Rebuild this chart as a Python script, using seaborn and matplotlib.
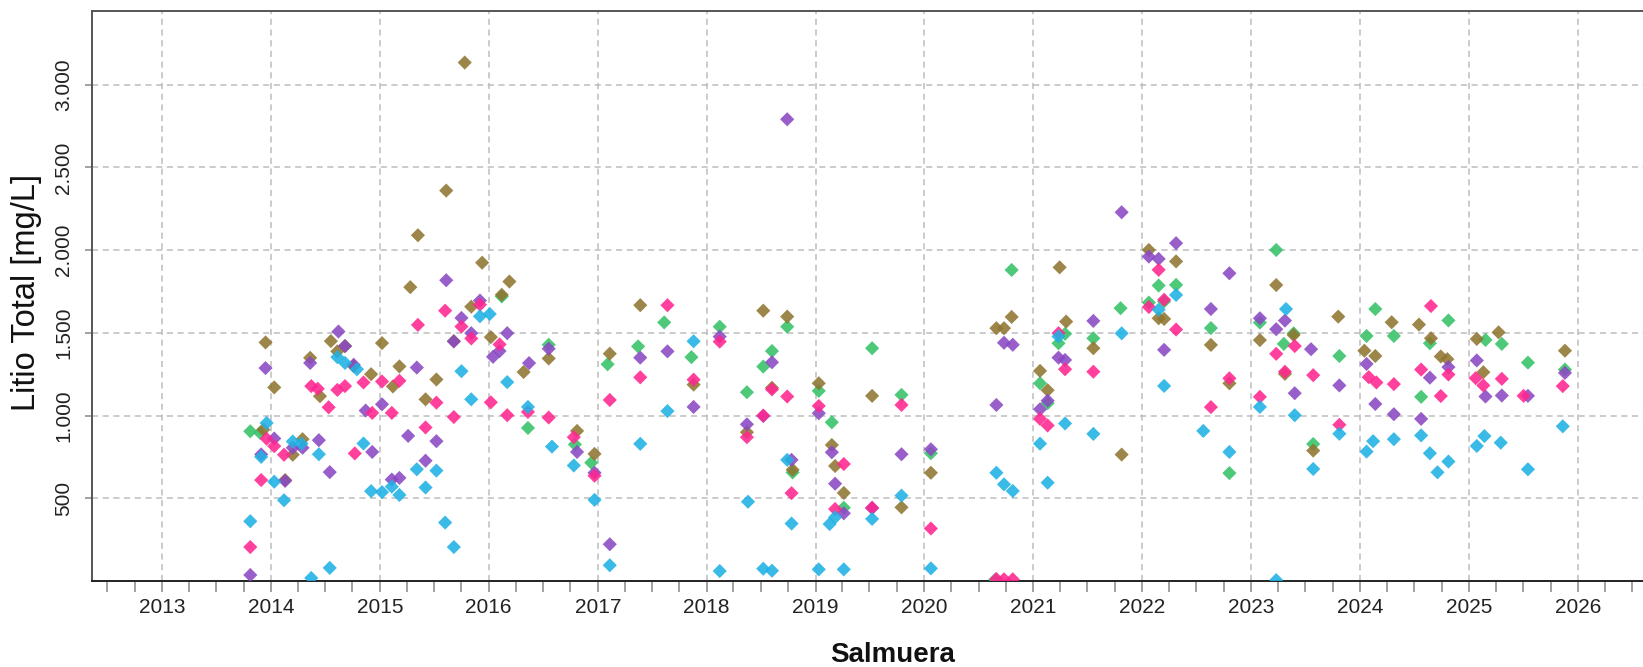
import numpy as np
import pandas as pd
import matplotlib
matplotlib.use("Agg")
import matplotlib.pyplot as plt
import matplotlib.dates as mdates
from matplotlib.ticker import FuncFormatter, FixedLocator
import seaborn as sns

# Sampling dates (decimal years) and total lithium [mg/L] for each series
green_t = [2013.81, 2013.90, 2016.12, 2016.36, 2016.55, 2016.79, 2016.94, 2017.09, 2017.37, 2017.61,
           2017.86, 2018.12, 2018.37, 2018.52, 2018.60, 2018.74, 2018.79, 2019.03, 2019.15, 2019.26,
           2019.52, 2019.79, 2020.06, 2020.65, 2020.80, 2021.06, 2021.13, 2021.23, 2021.29, 2021.55,
           2021.80, 2022.06, 2022.15, 2022.20, 2022.31, 2022.63, 2022.80, 2023.08, 2023.23, 2023.30,
           2023.39, 2023.57, 2023.81, 2024.06, 2024.14, 2024.31, 2024.56, 2024.64, 2024.81, 2025.15,
           2025.30, 2025.54, 2025.88]
green_v = [905, 895, 1720, 925, 1428, 825, 715, 1310, 1418, 1563,
           1353, 1537, 1141, 1296, 1390, 1537, 656, 1149, 959, 443,
           1407, 1125, 772, 8, 1880, 1195, 1075, 1437, 1494, 1467,
           1649, 1683, 1786, 1690, 1790, 1529, 652, 1562, 2001, 1433,
           1497, 828, 1360, 1481, 1644, 1481, 1113, 1437, 1575, 1457,
           1433, 1320, 1278]

brown_t = [2013.93, 2013.95, 2014.03, 2014.13, 2014.20, 2014.29, 2014.36, 2014.45, 2014.55, 2014.61,
           2014.68, 2014.76, 2014.92, 2015.02, 2015.12, 2015.18, 2015.28, 2015.35, 2015.42, 2015.52,
           2015.61, 2015.68, 2015.78, 2015.84, 2015.94, 2016.02, 2016.12, 2016.19, 2016.32, 2016.55,
           2016.81, 2016.97, 2017.11, 2017.39, 2017.88, 2018.37, 2018.52, 2018.60, 2018.74, 2018.79,
           2019.03, 2019.15, 2019.18, 2019.26, 2019.52, 2019.79, 2020.06, 2020.66, 2020.73, 2020.80,
           2021.06, 2021.13, 2021.24, 2021.30, 2021.55, 2021.81, 2022.06, 2022.15, 2022.20, 2022.31,
           2022.63, 2022.80, 2023.08, 2023.23, 2023.31, 2023.39, 2023.57, 2023.80, 2024.04, 2024.14,
           2024.29, 2024.54, 2024.65, 2024.74, 2024.80, 2025.07, 2025.13, 2025.27, 2025.88]
brown_v = [915, 1442, 1170, 610, 763, 857, 1349, 1117, 1450, 1388,
           1420, 1298, 1250, 1438, 1176, 1297, 1776, 2090, 1098, 1218,
           2360, 1450, 3134, 1658, 1924, 1474, 1730, 1810, 1263, 1345,
           907, 768, 1374, 1667, 1187, 899, 1634, 1168, 1598, 672,
           1195, 822, 695, 532, 1119, 445, 654, 1528, 1528, 1596,
           1270, 1153, 1896, 1568, 1407, 764, 2001, 1588, 1584, 1932,
           1427, 1195, 1456, 1789, 1252, 1487, 788, 1598, 1392, 1360,
           1564, 1550, 1467, 1357, 1341, 1463, 1262, 1503, 1392]

purple_t = [2013.81, 2013.91, 2013.95, 2014.03, 2014.13, 2014.20, 2014.29, 2014.36, 2014.44, 2014.54,
            2014.62, 2014.68, 2014.76, 2014.87, 2014.93, 2015.02, 2015.11, 2015.18, 2015.26, 2015.34,
            2015.42, 2015.52, 2015.61, 2015.68, 2015.75, 2015.84, 2015.92, 2016.04, 2016.10, 2016.17,
            2016.37, 2016.55, 2016.81, 2016.97, 2017.11, 2017.39, 2017.64, 2017.88, 2018.12, 2018.37,
            2018.52, 2018.60, 2018.74, 2018.78, 2019.03, 2019.15, 2019.18, 2019.26, 2019.52, 2019.79,
            2020.06, 2020.66, 2020.73, 2020.81, 2021.06, 2021.13, 2021.23, 2021.29, 2021.55, 2021.81,
            2022.06, 2022.15, 2022.20, 2022.31, 2022.63, 2022.80, 2023.08, 2023.23, 2023.31, 2023.40,
            2023.55, 2023.81, 2024.06, 2024.14, 2024.31, 2024.56, 2024.64, 2024.81, 2025.07, 2025.15,
            2025.30, 2025.54, 2025.88]
purple_v = [36, 765, 1287, 861, 605, 805, 805, 1318, 851, 658,
            1508, 1420, 1307, 1030, 780, 1068, 613, 623, 877, 1290,
            727, 845, 1818, 1448, 1590, 1498, 1695, 1355, 1390, 1498,
            1317, 1404, 780, 654, 222, 1350, 1388, 1052, 1477, 947,
            997, 1322, 2791, 732, 1014, 778, 588, 409, 440, 766,
            796, 1064, 1440, 1428, 1038, 1090, 1350, 1336, 1572, 2229,
            1961, 1947, 1397, 2042, 1644, 1860, 1588, 1522, 1574, 1135,
            1401, 1182, 1312, 1070, 1008, 980, 1229, 1293, 1333, 1115,
            1121, 1119, 1258]

pink_t = [2013.81, 2013.91, 2013.96, 2014.03, 2014.12, 2014.37, 2014.43, 2014.53, 2014.61, 2014.68,
          2014.77, 2014.85, 2014.93, 2015.02, 2015.11, 2015.18, 2015.35, 2015.42, 2015.52, 2015.60,
          2015.68, 2015.75, 2015.84, 2015.92, 2016.02, 2016.10, 2016.17, 2016.36, 2016.55, 2016.78,
          2016.97, 2017.11, 2017.39, 2017.64, 2017.88, 2018.12, 2018.37, 2018.52, 2018.60, 2018.74,
          2018.78, 2019.03, 2019.18, 2019.26, 2019.52, 2019.79, 2020.06, 2020.66, 2020.73, 2020.81,
          2021.06, 2021.13, 2021.23, 2021.29, 2021.55, 2022.06, 2022.15, 2022.20, 2022.31, 2022.63,
          2022.80, 2023.08, 2023.23, 2023.31, 2023.40, 2023.57, 2023.81, 2024.08, 2024.15, 2024.31,
          2024.56, 2024.65, 2024.74, 2024.81, 2025.06, 2025.13, 2025.30, 2025.50, 2025.86]
pink_v = [205, 610, 860, 815, 763, 1178, 1162, 1050, 1155, 1178,
          771, 1200, 1016, 1206, 1016, 1210, 1548, 928, 1078, 1634,
          991, 1538, 1466, 1670, 1080, 1430, 1002, 1022, 988, 869,
          636, 1094, 1231, 1667, 1217, 1447, 869, 1000, 1158, 1115,
          531, 1058, 435, 707, 443, 1064, 317, 12, 10, 10,
          980, 940, 1498, 1280, 1265, 1656, 1881, 1700, 1520, 1051,
          1225, 1113, 1373, 1265, 1420, 1244, 944, 1232, 1200, 1190,
          1278, 1662, 1118, 1248, 1226, 1182, 1222, 1119, 1178]

cyan_t = [2013.81, 2013.91, 2013.96, 2014.03, 2014.12, 2014.20, 2014.28, 2014.37, 2014.44, 2014.54,
          2014.61, 2014.68, 2014.79, 2014.85, 2014.92, 2015.02, 2015.11, 2015.18, 2015.34, 2015.42,
          2015.52, 2015.60, 2015.68, 2015.75, 2015.84, 2015.92, 2016.01, 2016.17, 2016.36, 2016.58,
          2016.78, 2016.97, 2017.11, 2017.39, 2017.64, 2017.88, 2018.12, 2018.38, 2018.52, 2018.60,
          2018.74, 2018.78, 2019.03, 2019.13, 2019.18, 2019.26, 2019.52, 2019.79, 2020.06, 2020.66,
          2020.73, 2020.81, 2021.06, 2021.13, 2021.23, 2021.29, 2021.55, 2021.81, 2022.15, 2022.20,
          2022.31, 2022.56, 2022.80, 2023.08, 2023.23, 2023.32, 2023.40, 2023.57, 2023.81, 2024.06,
          2024.12, 2024.31, 2024.56, 2024.64, 2024.71, 2024.81, 2025.07, 2025.14, 2025.29, 2025.54,
          2025.86]
cyan_v = [361, 750, 955, 600, 488, 843, 830, 18, 766, 79,
          1353, 1318, 1280, 831, 543, 537, 570, 520, 675, 565,
          667, 353, 205, 1268, 1098, 1600, 1614, 1202, 1052, 812,
          698, 490, 95, 829, 1027, 1449, 60, 479, 74, 62,
          732, 347, 70, 344, 385, 70, 375, 516, 76, 654,
          584, 544, 830, 594, 1478, 952, 889, 1497, 1640, 1179,
          1729, 907, 780, 1052, 5, 1644, 1002, 677, 890, 782,
          845, 857, 880, 772, 657, 722, 816, 876, 836, 675,
          935]

series_names = ["Pozo 1", "Pozo 2", "Pozo 3", "Pozo 4", "Pozo 5"]
series_colors = ["#35c267", "#8f7530", "#8a48c2", "#ff2690", "#1fb1e4"]


def to_date(y):
    year = int(np.floor(y))
    start = pd.Timestamp(year, 1, 1)
    end = pd.Timestamp(year + 1, 1, 1)
    return start + (end - start) * (y - year)


frames = []
for name, t, v in zip(series_names,
                      [green_t, brown_t, purple_t, pink_t, cyan_t],
                      [green_v, brown_v, purple_v, pink_v, cyan_v]):
    frames.append(pd.DataFrame({"fecha": [to_date(x) for x in t], "litio": v, "serie": name}))
df = pd.concat(frames, ignore_index=True)

sns.set_style("white")
plt.rcParams["font.family"] = ["Liberation Sans", "DejaVu Sans"]

fig = plt.figure(figsize=(16.43, 6.67), dpi=100)
ax = fig.add_axes([0.0557, 0.129, 0.9443, 0.8546])

sns.scatterplot(data=df, x="fecha", y="litio", hue="serie", hue_order=series_names,
                palette=series_colors, marker="D", s=52, linewidth=0, alpha=0.88,
                legend=False, ax=ax, zorder=3)

ax.set_xlim(to_date(2012.353), to_date(2026.597))
ax.set_ylim(0, 3446)

# yearly grid + quarterly ticks
ax.xaxis.set_major_locator(mdates.YearLocator())
ax.xaxis.set_major_formatter(mdates.DateFormatter("%Y"))
ax.xaxis.set_minor_locator(mdates.MonthLocator(bymonth=[4, 7, 10]))
ax.yaxis.set_major_locator(FixedLocator([500, 1000, 1500, 2000, 2500, 3000]))
ax.yaxis.set_major_formatter(FuncFormatter(lambda v, p: f"{v:,.0f}".replace(",", ".")))

ax.set_axisbelow(True)
ax.grid(True, which="major", color="#bdbdbd", linestyle=(0, (4, 3)), linewidth=1.1)

ax.tick_params(axis="x", which="both", direction="out", length=8, width=1.1,
               color="#888888", labelsize=15, labelcolor="#222222", pad=4, bottom=True)
ax.tick_params(axis="y", which="major", direction="out", length=5, width=1.1,
               color="#888888", labelsize=15, labelcolor="#222222", pad=8, left=True)
for lab in ax.get_yticklabels():
    lab.set_rotation(90)
    lab.set_va("center")

for side in ["top", "left"]:
    ax.spines[side].set_color("#555555")
    ax.spines[side].set_linewidth(1.4)
ax.spines["bottom"].set_color("#222222")
ax.spines["bottom"].set_linewidth(1.4)
ax.spines["right"].set_visible(False)

ax.set_xlabel("")
ax.set_ylabel("")
fig.text(27 / 1643, 1 - 292 / 667, "Litio Total [mg/L]", rotation=90,
         ha="center", va="center", fontsize=23.5, color="#111111")
fig.text(893 / 1643, 1 - 655 / 667, "Salmuera", ha="center", va="center",
         fontsize=20, fontweight="bold", color="#111111")

fig.savefig("out.png", dpi=100)
